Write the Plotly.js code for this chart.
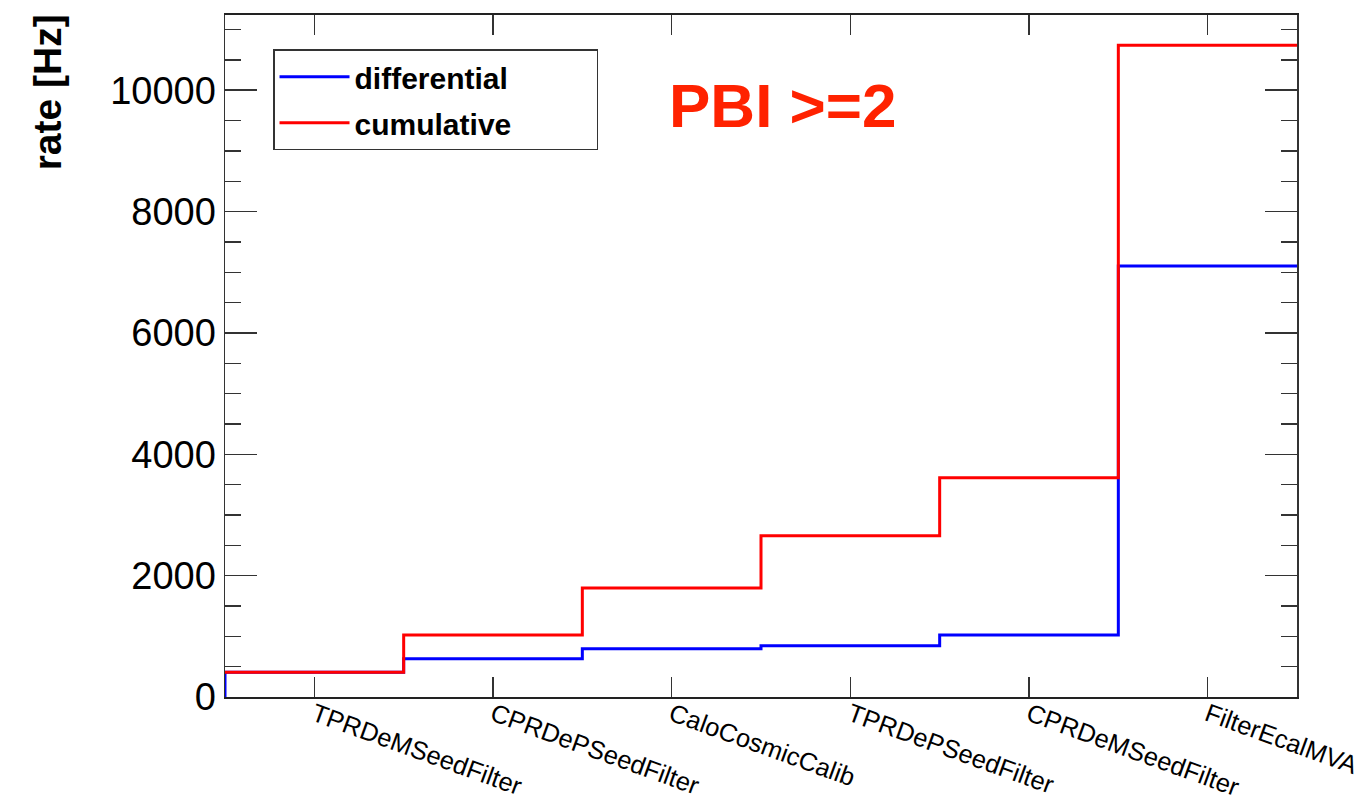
<!DOCTYPE html>
<html>
<head>
<meta charset="utf-8">
<script src="https://cdn.plot.ly/plotly-3.0.1.min.js"></script>
<style>html,body{margin:0;padding:0;background:#fff;}#chart{width:1367px;height:807px;}</style>
</head>
<body>
<div id="chart"></div>
<script>
// Data
const categories = ["TPRDeMSeedFilter", "CPRDePSeedFilter", "CaloCosmicCalib", "TPRDePSeedFilter", "CPRDeMSeedFilter", "FilterEcalMVA"];
const differential = [407, 631, 796, 845, 1021, 7105];
const cumulative = [407, 1021, 1796, 2657, 3613, 10741];
const yTickVals = [0, 2000, 4000, 6000, 8000, 10000];
const yMax = 11240;

// Build step (histogram) paths from bin index edges
const edges = categories.map((_, i) => i).concat([categories.length]);
const centers = categories.map((_, i) => i + 0.5);
const diffX = [0].concat(edges);
const diffY = [0].concat(differential, [differential[differential.length - 1]]);
const cumX = edges.slice();
const cumY = cumulative.concat([cumulative[cumulative.length - 1]]);

const font = "Liberation Sans, Arial, Helvetica, sans-serif";
const pad = "\u00a0".repeat(10);

const traces = [
  {x: diffX, y: diffY, mode: "lines", line: {shape: "hv", color: "#0000ff", width: 3}, name: "<b>differential</b>" + pad, legendgroup: "a"},
  {x: cumX, y: cumY, mode: "lines", line: {shape: "hv", color: "#ff0000", width: 3}, name: "<b>cumulative</b>", legendgroup: "b"}
];

const layout = {
  width: 1367, height: 807,
  margin: {l: 225, r: 70, t: 15, b: 110},
  paper_bgcolor: "#fff", plot_bgcolor: "#fff",
  font: {family: font, color: "#000"},
  showlegend: true,
  legend: {
    x: 0.0448, y: 0.9497, xanchor: "left", yanchor: "top",
    bordercolor: "#333", borderwidth: 1.5, bgcolor: "#fff",
    font: {size: 30, family: font, color: "#000"},
    itemwidth: 70, tracegroupgap: 4
  },
  xaxis: {
    range: [0, categories.length],
    tickmode: "array", tickvals: centers, ticktext: categories,
    tickangle: 20, tickfont: {size: 25.5, family: font, color: "#000"},
    ticklabelstandoff: -9,
    ticks: "inside", ticklen: 20, tickwidth: 1.5, tickcolor: "#333",
    showline: true, linecolor: "#222", linewidth: 2, mirror: "ticks",
    showgrid: false, zeroline: false, fixedrange: true
  },
  yaxis: {
    range: [0, yMax],
    tickmode: "array", tickvals: yTickVals, ticktext: yTickVals.map(String),
    tickfont: {size: 38, family: font, color: "#000"},
    ticks: "inside", ticklen: 32, tickwidth: 1.5, tickcolor: "#333",
    minor: {dtick: 500, ticks: "inside", ticklen: 16, tickwidth: 1.5, tickcolor: "#333", showgrid: false},
    showline: true, linecolor: "#333", linewidth: 1.5, mirror: "ticks",
    showgrid: false, zeroline: false, fixedrange: true
  },
  annotations: [
    {text: "<b>rate [Hz]</b>", xref: "paper", yref: "paper", x: -0.166, y: 0.8867,
     xanchor: "center", yanchor: "middle", textangle: -90, showarrow: false,
     font: {size: 39, family: font, color: "#000"}},
    {text: "<b>PBI >=2</b>", xref: "paper", yref: "paper", x: (782 - 225) / 1072, y: (697 - 105) / 682.3,
     xanchor: "center", yanchor: "middle", showarrow: false,
     font: {size: 62, family: font, color: "#ff2200"}}
  ]
};

Plotly.newPlot("chart", traces, layout, {displayModeBar: false, staticPlot: true});
</script>
</body>
</html>
